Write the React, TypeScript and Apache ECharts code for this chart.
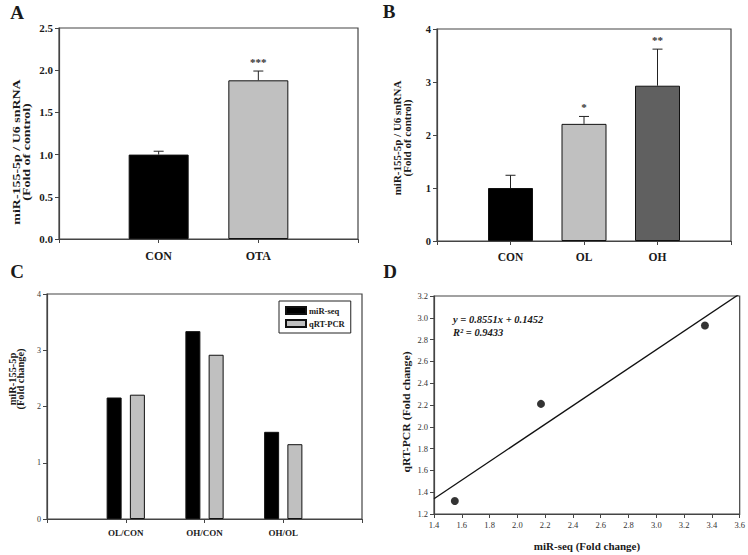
import React, { useEffect, useRef } from 'react';
import * as echarts from 'echarts';

const FONT = "'Liberation Serif', 'Times New Roman', serif";

// Panel A
const aCategories = ['CON', 'OTA'];
const aMeans = [1.0, 1.88];
const aUpper = [1.04, 1.99];
const aStars = ['', '***'];
const aColors = ['#000000', '#c0c0c0'];

// Panel B
const bCategories = ['CON', 'OL', 'OH'];
const bMeans = [1.0, 2.21, 2.93];
const bUpper = [1.24, 2.35, 3.62];
const bStars = ['', '*', '**'];
const bColors = ['#000000', '#c0c0c0', '#606060'];

// Panel C
const cCategories = ['OL/CON', 'OH/CON', 'OH/OL'];
const cMirSeq = [2.16, 3.34, 1.55];
const cQrtPcr = [2.21, 2.92, 1.33];

// Panel D
const dMirSeq = [1.55, 2.17, 3.35];
const dQrtPcr = [1.32, 2.21, 2.93];
const dTrendX = [1.4, 3.6];
const dTrendY = [1.34, 3.22];

const AX = '#444';
const TXT = '#1a1a1a';

function pad(cats: string[]) {
  return [' ', ...cats, '  '];
}

function catAxis(gridIndex: number, cats: string[], fontSize: number, margin: number) {
  return {
    type: 'category',
    gridIndex,
    data: pad(cats),
    boundaryGap: false,
    axisLine: { show: true, lineStyle: { color: AX, width: 1.2 } },
    axisTick: { show: true, interval: 0, length: 4, lineStyle: { color: AX } },
    axisLabel: { interval: 0, fontFamily: FONT, fontWeight: 'bold', fontSize, color: TXT, margin },
    splitLine: { show: false },
  };
}

function valAxis(gridIndex: number, min: number, max: number, interval: number, fontSize: number, bold: boolean, digits: number, color = TXT) {
  return {
    type: 'value',
    gridIndex,
    min,
    max,
    interval,
    axisLine: { show: true, lineStyle: { color: AX, width: 1.2 } },
    axisTick: { show: true, length: 4, lineStyle: { color: AX } },
    axisLabel: {
      fontFamily: FONT,
      fontWeight: bold ? 'bold' : 'normal',
      fontSize,
      color,
      margin: 6,
      formatter: (v: number) => v.toFixed(digits),
    },
    splitLine: { show: false },
  };
}

function barData(means: number[], colors: string[]) {
  return ['-', ...means.map((m, i) => ({ value: m, itemStyle: { color: colors[i] } })), '-'];
}

function errSeries(idx: number, means: number[], upper: number[], stars: string[]) {
  return {
    type: 'custom',
    xAxisIndex: idx,
    yAxisIndex: idx,
    data: means.map((m, i) => [i + 1, m, upper[i]]),
    renderItem: (params: any, api: any) => {
      const x = api.value(0);
      const p0 = api.coord([x, api.value(1)]);
      const p1 = api.coord([x, api.value(2)]);
      const star = stars[params.dataIndex];
      return {
        type: 'group',
        children: [
          { type: 'line', shape: { x1: p0[0], y1: p0[1], x2: p1[0], y2: p1[1] }, style: { stroke: '#222', lineWidth: 1 } },
          { type: 'line', shape: { x1: p1[0] - 5, y1: p1[1], x2: p1[0] + 5, y2: p1[1] }, style: { stroke: '#222', lineWidth: 1 } },
          {
            type: 'text',
            x: p1[0],
            y: p1[1] - 4,
            style: { text: star, align: 'center', verticalAlign: 'bottom', fontFamily: FONT, fontWeight: 'bold', fontSize: 11, fill: '#333' },
          },
        ],
      };
    },
    z: 5,
  };
}

function vText(text: string, x: number, y: number, fontSize: number, scale = 1) {
  return {
    type: 'text',
    x,
    y,
    rotation: Math.PI / 2,
    scaleX: scale,
    style: { text, align: 'center', verticalAlign: 'middle', fontFamily: FONT, fontWeight: 'bold', fontSize, fill: TXT },
  };
}

function hText(text: string, x: number, y: number, fontSize: number, align = 'center', italic = false) {
  return {
    type: 'text',
    x,
    y,
    style: {
      text,
      align,
      verticalAlign: 'middle',
      fontFamily: FONT,
      fontWeight: 'bold',
      fontStyle: italic ? 'italic' : 'normal',
      fontSize,
      fill: TXT,
    },
  };
}

export default function App() {
  const ref = useRef<HTMLDivElement>(null);
  useEffect(() => {
    if (!ref.current) return;
    const chart = echarts.init(ref.current, undefined, { renderer: 'svg' });
    const gridStyle = { show: true, borderColor: AX, borderWidth: 1.2, backgroundColor: 'transparent', containLabel: false };
    const option: any = {
      animation: false,
      backgroundColor: '#ffffff',
      grid: [
        { ...gridStyle, left: 59, top: 28, width: 299, height: 211 },
        { ...gridStyle, left: 437, top: 29, width: 294, height: 212 },
        { ...gridStyle, left: 47, top: 294, width: 315, height: 225 },
        { ...gridStyle, left: 434, top: 296, width: 307, height: 218 },
      ],
      xAxis: [
        catAxis(0, aCategories, 12, 11),
        catAxis(1, bCategories, 11.5, 10),
        catAxis(2, cCategories, 9, 9),
        { ...valAxis(3, 1.4, 3.6, 0.2, 8.5, false, 1, '#333'), axisLabel: { fontFamily: FONT, fontSize: 8.5, color: '#333', margin: 6, formatter: (v: number) => v.toFixed(1) } },
      ],
      yAxis: [
        valAxis(0, 0, 2.5, 0.5, 11, true, 1),
        valAxis(1, 0, 4, 1, 10.5, true, 0),
        valAxis(2, 0, 4, 1, 8, false, 0, '#333'),
        valAxis(3, 1.2, 3.2, 0.2, 8.5, false, 1, '#333'),
      ],
      legend: {
        data: ['miR-seq', 'qRT-PCR'],
        orient: 'vertical',
        left: 279,
        top: 301,
        itemWidth: 20,
        itemHeight: 7,
        itemGap: 4,
        padding: [5, 6, 5, 6],
        borderColor: '#222',
        borderWidth: 1,
        icon: 'rect',
        textStyle: { fontFamily: FONT, fontWeight: 'bold', fontSize: 8.5, color: TXT, padding: [0, 0, 0, -2] },
      },
      series: [
        {
          type: 'bar',
          xAxisIndex: 0,
          yAxisIndex: 0,
          barWidth: 60,
          data: barData(aMeans, aColors),
          itemStyle: { borderColor: '#111', borderWidth: 1 },
        },
        errSeries(0, aMeans, aUpper, aStars),
        {
          type: 'bar',
          xAxisIndex: 1,
          yAxisIndex: 1,
          barWidth: 45,
          data: barData(bMeans, bColors),
          itemStyle: { borderColor: '#111', borderWidth: 1 },
        },
        errSeries(1, bMeans, bUpper, bStars),
        {
          name: 'miR-seq',
          type: 'bar',
          xAxisIndex: 2,
          yAxisIndex: 2,
          barWidth: 15,
          barGap: '55%',
          data: ['-', ...cMirSeq, '-'],
          itemStyle: { color: '#000000', borderColor: '#111', borderWidth: 1 },
        },
        {
          name: 'qRT-PCR',
          type: 'bar',
          xAxisIndex: 2,
          yAxisIndex: 2,
          barWidth: 15,
          barGap: '55%',
          data: ['-', ...cQrtPcr, '-'],
          itemStyle: { color: '#c0c0c0', borderColor: '#111', borderWidth: 1 },
        },
        {
          type: 'line',
          xAxisIndex: 3,
          yAxisIndex: 3,
          data: dTrendX.map((x, i) => [x, dTrendY[i]]),
          symbol: 'none',
          clip: true,
          lineStyle: { color: '#111', width: 1.3 },
        },
        {
          type: 'scatter',
          xAxisIndex: 3,
          yAxisIndex: 3,
          data: dMirSeq.map((x, i) => [x, dQrtPcr[i]]),
          symbol: 'circle',
          symbolSize: 8,
          itemStyle: { color: '#000000' },
          z: 5,
        },
      ],
      graphic: [
        hText('A', 17, 12, 19),
        hText('B', 389, 11, 19),
        hText('C', 17, 271, 19),
        hText('D', 390, 271, 19),
        vText('miR-155-5p / U6 snRNA', 17, 152, 10.5, 1.33),
        vText('(Fold of control)', 27, 152, 10.5, 1.33),
        vText('miR-155-5p / U6 snRNA', 397, 138, 10.5, 1.05),
        vText('(Fold of control)', 407, 138, 10.5, 1.05),
        vText('miR-155-5p', 13, 379, 9.5, 1.1),
        vText('(Fold change)', 21, 379, 9.5, 1.1),
        vText('qRT-PCR (Fold change)', 406, 412, 10.5, 1.12),
        hText('miR-seq (Fold change)', 587, 546, 11),
        hText('y = 0.8551x + 0.1452', 453, 319, 10.5, 'left', true),
        hText('R² = 0.9433', 453, 332, 10.5, 'left', true),
      ],
    };
    chart.setOption(option);
    return () => chart.dispose();
  }, []);
  return <div ref={ref} style={{ position: 'absolute', left: 0, top: 0, width: 748, height: 555, background: '#fff' }} />;
}
